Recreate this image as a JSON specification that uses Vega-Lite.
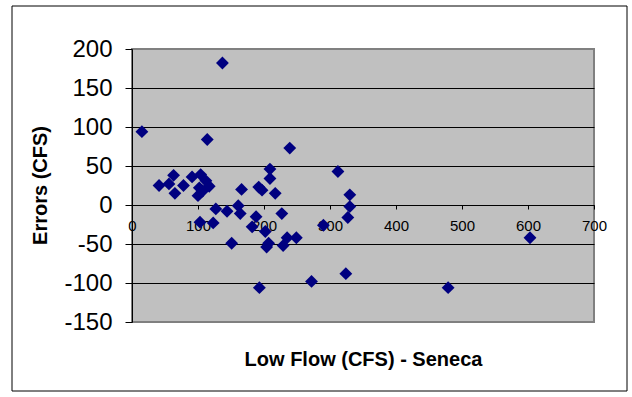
{
  "$schema": "https://vega.github.io/schema/vega-lite/v6.json",
  "width": 462,
  "height": 273,
  "autosize": "none",
  "padding": {"left": 132, "top": 49, "right": 38, "bottom": 75},
  "background": "white",
  "config": {
    "font": "Liberation Sans",
    "view": {"fill": "#C0C0C0", "stroke": "#808080", "strokeWidth": 2}
  },
  "data": {
    "values": [
      {"flow": 15, "error": 94}, {"flow": 137, "error": 182}, {"flow": 114, "error": 84},
      {"flow": 239, "error": 73}, {"flow": 312, "error": 43}, {"flow": 209, "error": 46},
      {"flow": 209, "error": 34}, {"flow": 41, "error": 25}, {"flow": 56, "error": 27},
      {"flow": 63, "error": 38}, {"flow": 65, "error": 15}, {"flow": 78, "error": 25},
      {"flow": 91, "error": 36}, {"flow": 104, "error": 39}, {"flow": 112, "error": 31},
      {"flow": 117, "error": 24}, {"flow": 100, "error": 12}, {"flow": 107, "error": 18},
      {"flow": 102, "error": 22}, {"flow": 166, "error": 20}, {"flow": 192, "error": 23},
      {"flow": 197, "error": 19}, {"flow": 217, "error": 15}, {"flow": 330, "error": 13},
      {"flow": 127, "error": -5}, {"flow": 144, "error": -8}, {"flow": 161, "error": -1},
      {"flow": 164, "error": -11}, {"flow": 188, "error": -15}, {"flow": 182, "error": -28},
      {"flow": 227, "error": -11}, {"flow": 202, "error": -34}, {"flow": 330, "error": -2},
      {"flow": 327, "error": -16}, {"flow": 103, "error": -22}, {"flow": 123, "error": -23},
      {"flow": 290, "error": -26}, {"flow": 151, "error": -49}, {"flow": 204, "error": -54},
      {"flow": 207, "error": -49}, {"flow": 229, "error": -52}, {"flow": 235, "error": -42},
      {"flow": 249, "error": -42}, {"flow": 193, "error": -106}, {"flow": 272, "error": -98},
      {"flow": 324, "error": -88}, {"flow": 479, "error": -106}, {"flow": 603, "error": -42}
    ]
  },
  "layer": [
    {
      "data": {"values": [{}]},
      "mark": {"type": "rect", "fill": null, "stroke": "black", "strokeWidth": 1, "clip": false},
      "encoding": {
        "x": {"value": -120},
        "x2": {"value": 495},
        "y": {"value": -43},
        "y2": {"value": 342}
      }
    },
    {
      "mark": {"type": "point", "shape": "diamond", "filled": true, "color": "#000080", "size": 165, "opacity": 1},
      "encoding": {
        "x": {
          "field": "flow",
          "type": "quantitative",
          "scale": {"domain": [0, 700], "nice": false, "zero": false},
          "axis": {
            "title": "Low Flow (CFS) - Seneca",
            "offset": -117,
            "values": [0, 100, 200, 300, 400, 500, 600, 700],
            "labelExpr": "'' + datum.value",
            "grid": false,
            "domainColor": "black",
            "domainWidth": 1,
            "tickColor": "black",
            "tickSize": 4,
            "labelFontSize": 15,
            "labelColor": "black",
            "labelPadding": 9,
            "labelFlush": false,
            "labelOverlap": false,
            "titleFontSize": 20,
            "titleFontWeight": "bold",
            "titleColor": "black",
            "titleY": 154,
            "titleBaseline": "middle"
          }
        },
        "y": {
          "field": "error",
          "type": "quantitative",
          "scale": {"domain": [-150, 200], "nice": false, "zero": false},
          "axis": {
            "title": "Errors (CFS)",
            "values": [-150, -100, -50, 0, 50, 100, 150, 200],
            "labelExpr": "'' + datum.value",
            "grid": true,
            "gridColor": {"condition": {"test": "datum.value === 200 || datum.value === -150", "value": "transparent"}, "value": "black"},
            "gridOpacity": 1,
            "gridWidth": 1,
            "domainColor": "black",
            "domainWidth": 1,
            "tickColor": "black",
            "tickSize": 7,
            "labelFontSize": 24,
            "labelColor": "black",
            "labelPadding": 13,
            "labelOverlap": false,
            "titleFontSize": 20,
            "titleFontWeight": "bold",
            "titleColor": "black",
            "titleX": -92,
            "titleY": 136,
            "titleAlign": "center",
            "titleBaseline": "middle"
          }
        }
      }
    }
  ]
}
